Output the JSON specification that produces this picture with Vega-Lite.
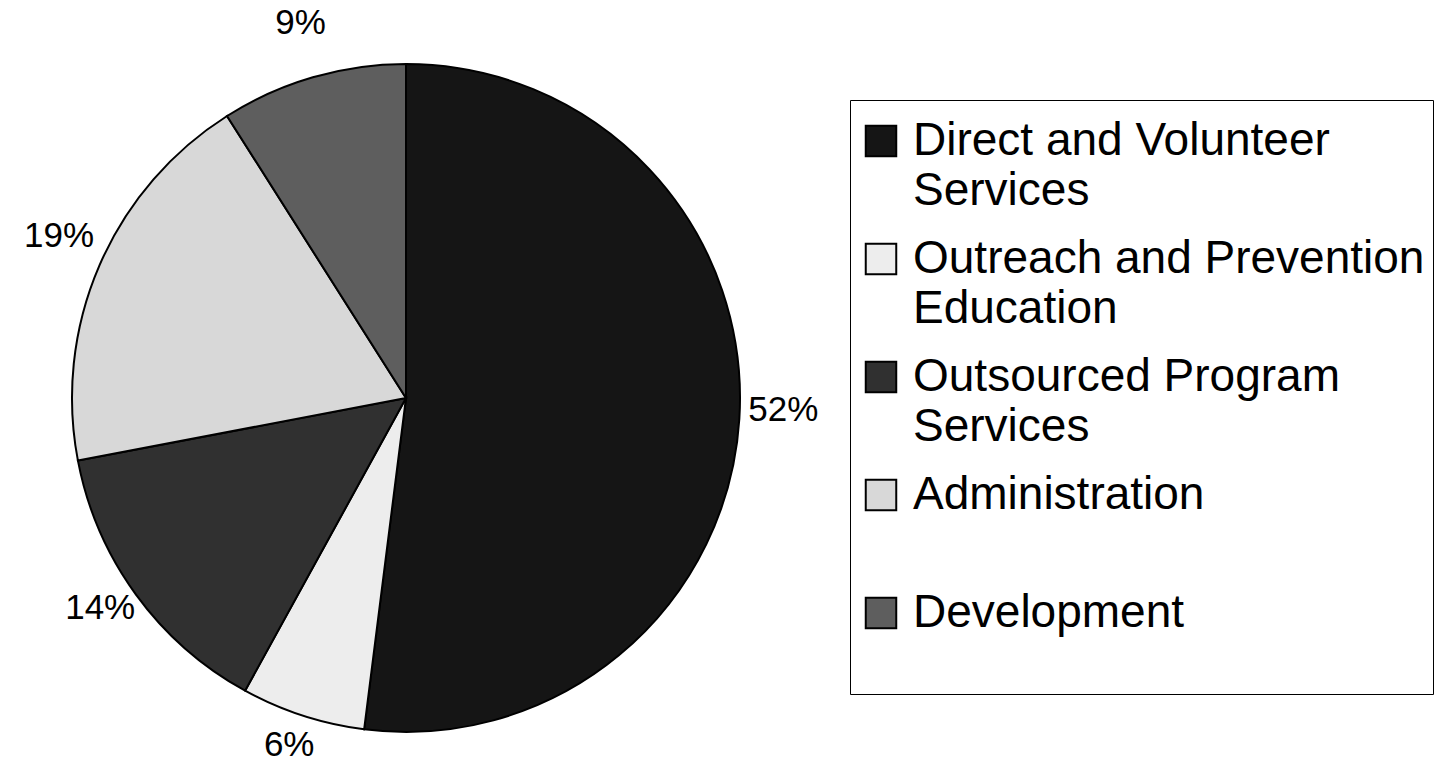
{
  "$schema": "https://vega.github.io/schema/vega-lite/v6.json",
  "width": 812,
  "height": 730,
  "autosize": {"type": "none"},
  "padding": {"left": 0, "top": 33, "right": 638, "bottom": 0},
  "background": "white",
  "config": {"view": {"stroke": null}, "font": "Liberation Sans"},
  "data": {
    "values": [
      {"category": "Direct and Volunteer Services", "value": 52, "label": "52%", "order": 1},
      {"category": "Outreach and Prevention Education", "value": 6, "label": "6%", "order": 2},
      {"category": "Outsourced Program Services", "value": 14, "label": "14%", "order": 3},
      {"category": "Administration", "value": 19, "label": "19%", "order": 4},
      {"category": "Development", "value": 9, "label": "9%", "order": 5}
    ]
  },
  "encoding": {
    "theta": {"field": "value", "type": "quantitative", "stack": true},
    "order": {"field": "order", "type": "quantitative"}
  },
  "layer": [
    {
      "mark": {"type": "arc", "radius": 334, "stroke": "black", "strokeWidth": 2},
      "encoding": {
        "color": {
          "field": "category",
          "type": "nominal",
          "scale": {
            "domain": ["Direct and Volunteer Services", "Outreach and Prevention Education", "Outsourced Program Services", "Administration", "Development"],
            "range": ["#151515", "#ededed", "#303030", "#d8d8d8", "#5e5e5e"]
          },
          "legend": {
            "orient": "none",
            "legendX": 850,
            "legendY": 67,
            "title": " ",
            "titleFontSize": 2,
            "titlePadding": 8,
            "strokeColor": "black",
            "padding": 8,
            "symbolType": "square",
            "symbolSize": 930,
            "symbolStrokeColor": "black",
            "symbolStrokeWidth": 2,
            "labelFont": "Liberation Sans",
            "labelFontSize": 46,
            "labelColor": "black",
            "labelLimit": 700,
            "labelOffset": 9,
            "rowPadding": 22,
            "labelBaseline": "middle",
            "labelExpr": "datum.label == 'Direct and Volunteer Services' ? ['Direct and Volunteer', 'Services'] : datum.label == 'Outreach and Prevention Education' ? ['Outreach and Prevention', 'Education'] : datum.label == 'Outsourced Program Services' ? ['Outsourced Program', 'Services'] : [datum.label, ' ']",
            "encode": {
              "labels": {"update": {"lineHeight": {"value": 50}}}
            }
          }
        }
      }
    },
    {
      "mark": {"type": "text", "radius": 378, "fontSize": 35, "dy": -12, "font": "Liberation Sans", "color": "black"},
      "encoding": {"text": {"field": "label", "type": "nominal"}, "detail": {"field": "category", "type": "nominal"}}
    }
  ]
}
